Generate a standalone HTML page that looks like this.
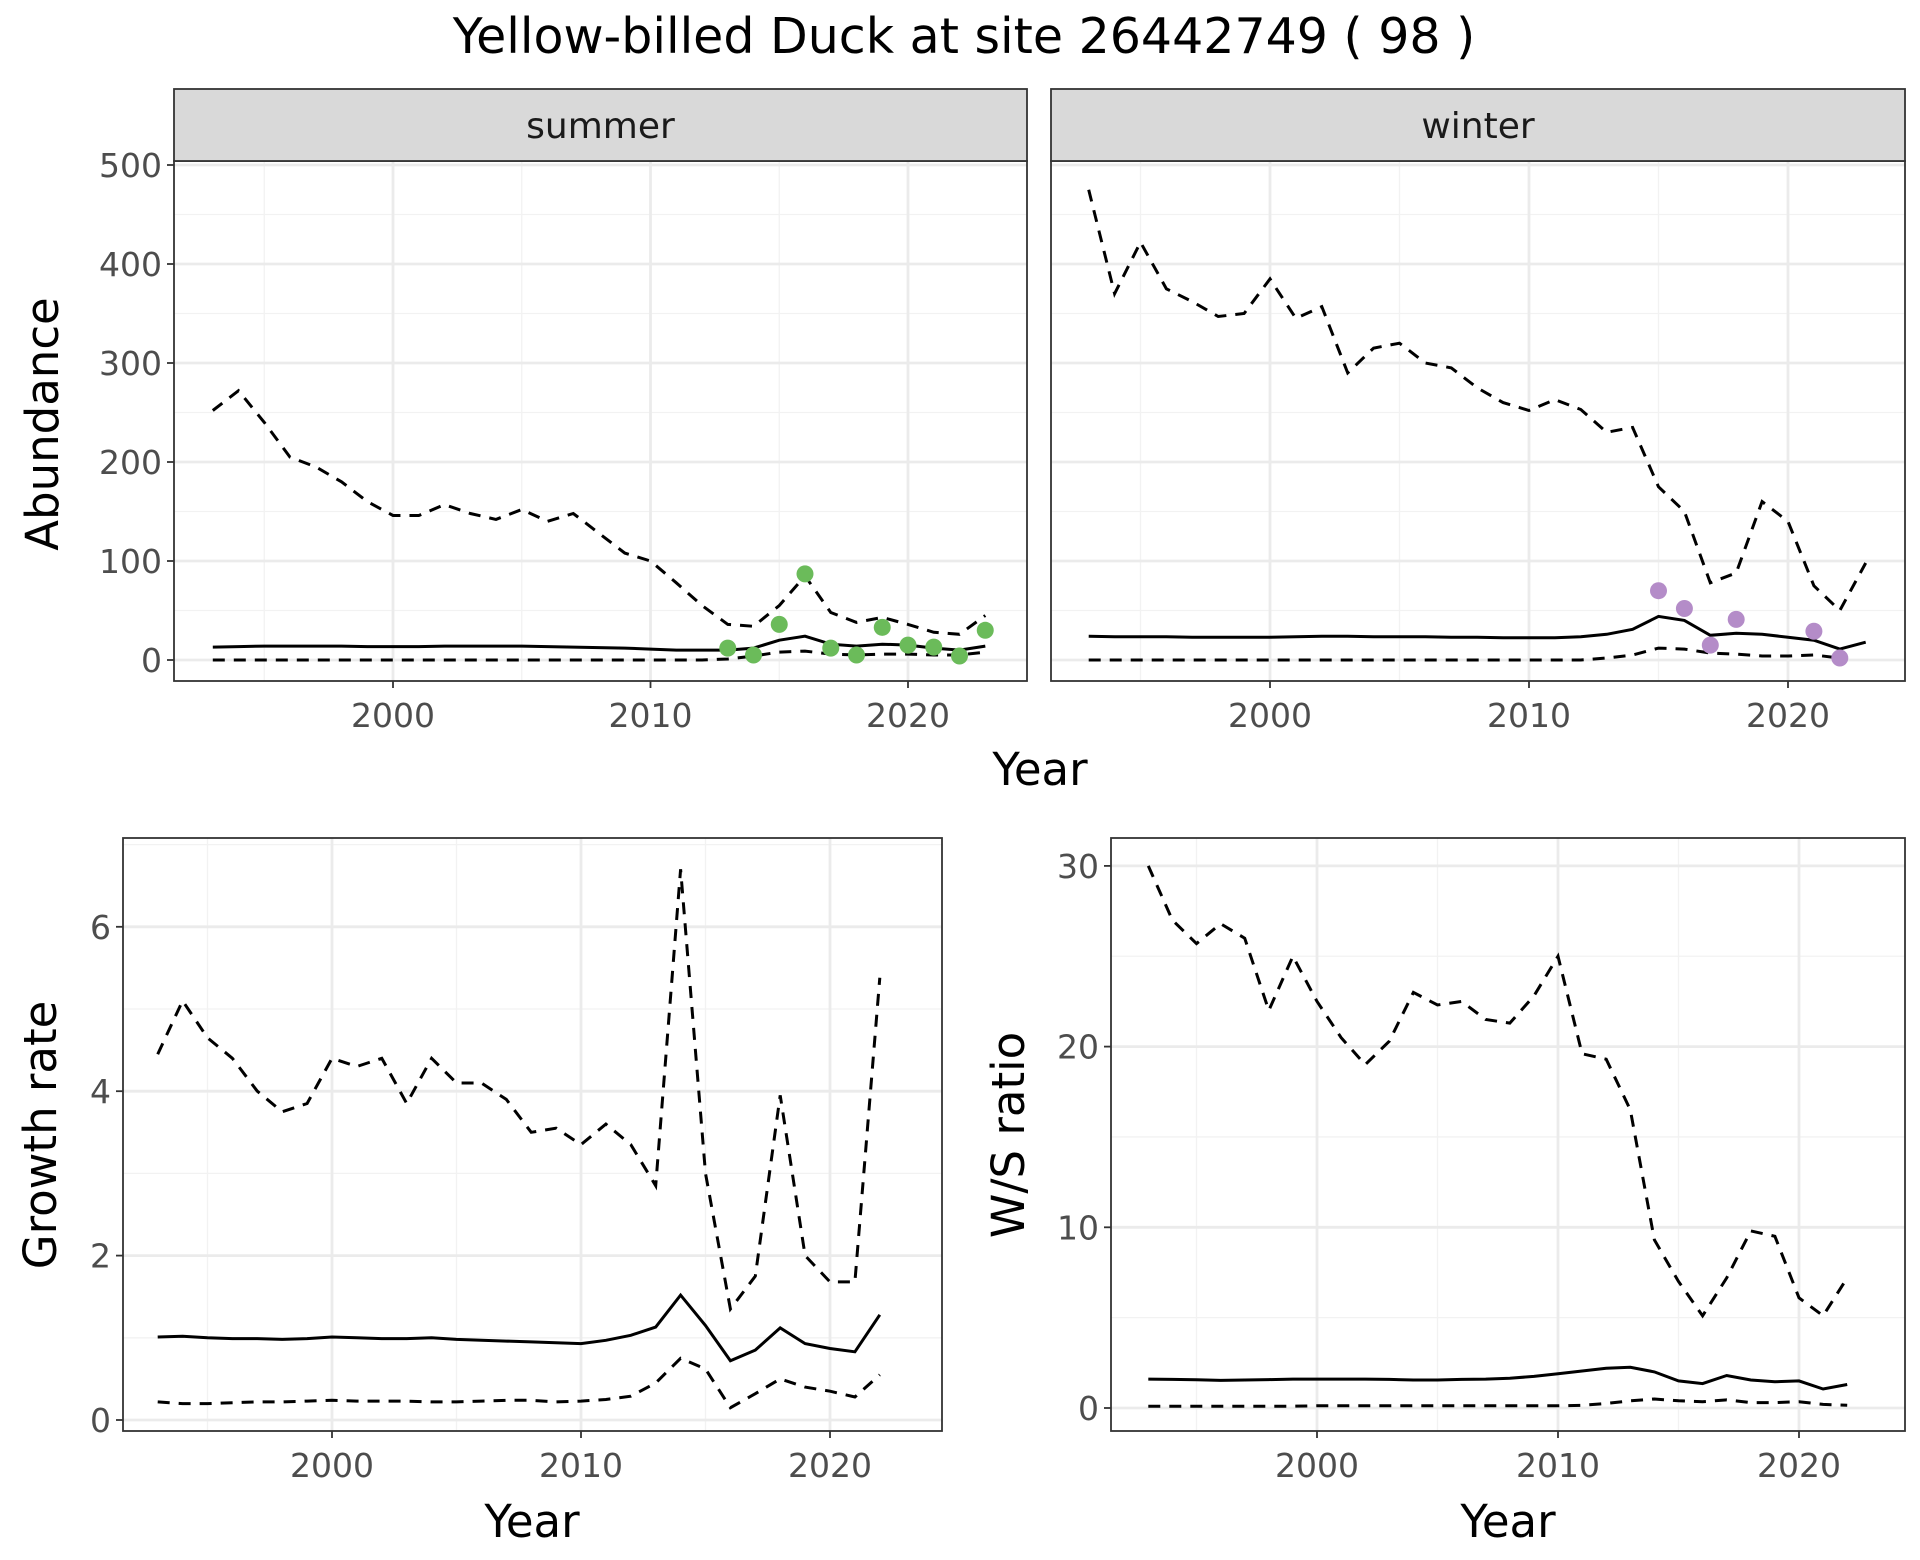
<!DOCTYPE html>
<html><head><meta charset="utf-8">
<style>
html,body{margin:0;padding:0;background:#fff;}
svg{display:block;font-family:"DejaVu Sans","Liberation Sans",sans-serif;}
</style></head>
<body>
<svg id="c" width="1920" height="1560" viewBox="0 0 1920 1560" xmlns="http://www.w3.org/2000/svg">
<text x="964" y="53" font-size="49" text-anchor="middle" fill="#000">Yellow-billed Duck at site 26442749 ( 98 )</text>
</svg>
<script>
const yearsTop = [1993,1994,1995,1996,1997,1998,1999,2000,2001,2002,2003,2004,2005,2006,2007,2008,2009,2010,2011,2012,2013,2014,2015,2016,2017,2018,2019,2020,2021,2022,2023];
const summerUpper = [252,272,240,205,195,180,160,146,146,157,148,142,152,140,148,128,108,100,78,55,36,34,55,85,48,38,43,36,28,26,45];
const summerMid = [13,13.5,14,14,14,14,13.5,13.5,13.5,14,14,14,14,13.5,13,12.5,12,11,10,10,10,12,20,24,16,14,16,15,12,10,14];
const summerLower = [0,0,0,0,0,0,0,0,0,0,0,0,0,0,0,0,0,0,0,0,1,4,8,9,6,5,6,6,5,5,8];
const summerObsYears = [2013,2014,2015,2016,2017,2018,2019,2020,2021,2022,2023];
const summerObs = [12,5,36,87,12,5,33,15,13,4,30];
const winterUpper = [475,370,422,375,362,347,350,385,345,357,290,315,320,300,295,275,260,252,263,253,230,235,175,150,78,88,160,140,75,50,98];
const winterMid = [24,23.5,23.5,23.5,23,23,23,23,23.5,24,24,23.5,23.5,23.5,23,23,22.5,22.5,22.5,23.5,26,31,44,40,25,27,26,23,20,11,18];
const winterLower = [0,0,0,0,0,0,0,0,0,0,0,0,0,0,0,0,0,0,0,0,2,5,12,11,7,6,4,4,5,2,null];
const winterObsYears = [2015,2016,2017,2018,2021,2022];
const winterObs = [70,52,15,41,29,2];
const yearsBot = [1993,1994,1995,1996,1997,1998,1999,2000,2001,2002,2003,2004,2005,2006,2007,2008,2009,2010,2011,2012,2013,2014,2015,2016,2017,2018,2019,2020,2021,2022];
const growthUpper = [4.45,5.1,4.65,4.4,4.0,3.75,3.85,4.4,4.3,4.4,3.85,4.4,4.1,4.1,3.9,3.5,3.55,3.35,3.6,3.35,2.85,6.7,3.0,1.35,1.75,3.95,2.0,1.68,1.68,5.38];
const growthMid = [1.01,1.02,1.0,0.99,0.99,0.98,0.99,1.01,1.0,0.99,0.99,1.0,0.98,0.97,0.96,0.95,0.94,0.93,0.97,1.03,1.13,1.52,1.15,0.72,0.85,1.12,0.93,0.87,0.83,1.28];
const growthLower = [0.22,0.2,0.2,0.21,0.22,0.22,0.23,0.24,0.23,0.23,0.23,0.22,0.22,0.23,0.24,0.24,0.22,0.23,0.25,0.29,0.45,0.75,0.62,0.15,0.32,0.5,0.4,0.35,0.28,0.55];
const wsUpper = [30,27,25.7,26.8,26,22,25,22.5,20.5,19,20.3,23,22.3,22.5,21.5,21.3,22.8,25,19.6,19.3,16.5,9.3,7,5.1,7.2,9.8,9.5,6.1,5.1,7.2];
const wsMid = [1.6,1.58,1.56,1.53,1.55,1.57,1.6,1.6,1.6,1.6,1.58,1.55,1.55,1.58,1.6,1.65,1.75,1.9,2.05,2.2,2.25,2.0,1.5,1.35,1.8,1.55,1.45,1.5,1.05,1.3];
const wsLower = [0.1,0.1,0.1,0.1,0.1,0.1,0.1,0.12,0.12,0.12,0.12,0.12,0.12,0.12,0.12,0.12,0.12,0.12,0.15,0.25,0.4,0.5,0.4,0.35,0.45,0.3,0.3,0.35,0.2,0.15];
const abundTicks = [0,100,200,300,400,500];
const growthTicks = [0,2,4,6];
const wsTicks = [0,10,20,30];
const yearTicks = [2000,2010,2020];

const svg = document.getElementById('c');
const NS = 'http://www.w3.org/2000/svg';
function mk(tag, attrs, parent){const e=document.createElementNS(NS,tag);for(const k in attrs)e.setAttribute(k,attrs[k]);(parent||svg).appendChild(e);return e;}

function panel(o){
  const g = mk('g',{});
  
  
  mk('rect',{x:o.x0,y:o.y0,width:o.x1-o.x0,height:o.y1-o.y0,fill:'#fff'},g);
  o.yMinor.forEach(v=>{const y=o.ys(v);if(y>o.y0&&y<o.y1)mk('line',{x1:o.x0,x2:o.x1,y1:y,y2:y,stroke:'#F2F2F2','stroke-width':1.3},g);});
  [1995,2005,2015].forEach(v=>{const x=o.xs(v);mk('line',{x1:x,x2:x,y1:o.y0,y2:o.y1,stroke:'#F2F2F2','stroke-width':1.3},g);});
  o.yMajor.forEach(v=>{const y=o.ys(v);mk('line',{x1:o.x0,x2:o.x1,y1:y,y2:y,stroke:'#EBEBEB','stroke-width':2.8},g);});
  yearTicks.forEach(v=>{const x=o.xs(v);mk('line',{x1:x,x2:x,y1:o.y0,y2:o.y1,stroke:'#EBEBEB','stroke-width':2.8},g);});
  return g;
}
function line(g, xs, ys, years, vals, dashed, name){
  let d='';let pen=false;
  years.forEach((yr,i)=>{const v=vals[i];if(v===null||v===undefined){pen=false;return;}d+=(pen?'L':'M')+xs(yr).toFixed(1)+','+ys(v).toFixed(1);pen=true;});
  const p = mk('path',{d:d,fill:'none',stroke:'#000','stroke-width':3,'stroke-dasharray':dashed?'12,9':'none'},g);
  
  
}
function points(g, xs, ys, years, vals, color, name){
  years.forEach((yr,i)=>{
    const c = mk('circle',{cx:xs(yr),cy:ys(vals[i]),r:8.5,fill:color},g);
    
    
  });
}
function border(o){mk('rect',{x:o.x0,y:o.y0,width:o.x1-o.x0,height:o.y1-o.y0,fill:'none',stroke:'#333','stroke-width':1.8});}
function xAxis(o){
  yearTicks.forEach(v=>{const x=o.xs(v);mk('line',{x1:x,x2:x,y1:o.y1,y2:o.y1+7,stroke:'#333','stroke-width':1.8});
    const t=mk('text',{x:x,y:o.y1+46,'font-size':33,'text-anchor':'middle',fill:'#4D4D4D'});t.textContent=v;
    
    });
}
function yAxis(o, ticks){
  ticks.forEach(v=>{const y=o.ys(v);mk('line',{x1:o.x0-7,x2:o.x0,y1:y,y2:y,stroke:'#333','stroke-width':1.8});
    const t=mk('text',{x:o.x0-12,y:y+12,'font-size':33,'text-anchor':'end',fill:'#4D4D4D'});t.textContent=v;
    
    });
}
function label(txt,x,y,rot,name){
  const t=mk('text',{x:x,y:y,'font-size':45,'text-anchor':'middle',fill:'#000',transform:rot?`rotate(-90 ${x} ${y})`:''});
  t.textContent=txt;
}
function strip(o,txt,name){
  const r=mk('rect',{x:o.x0,y:89,width:o.x1-o.x0,height:o.y0-89,fill:'#D9D9D9',stroke:'#333','stroke-width':1.8});
  
  const t=mk('text',{x:(o.x0+o.x1)/2,y:138,'font-size':36,'text-anchor':'middle',fill:'#1A1A1A'});t.textContent=txt;
  
}
const absY = v=>660 - v*(495/500);
const abMinor=[50,150,250,350,450,550];
const S={x0:174,x1:1027,y0:161,y1:681,xs:yr=>393+(yr-2000)*25.75,ys:absY,yMinor:abMinor,yMajor:abundTicks,name:'summer-panel'};
let g=panel(S);
line(g,S.xs,S.ys,yearsTop,summerUpper,true,'summer-upper-ci');
line(g,S.xs,S.ys,yearsTop,summerLower,true,'summer-lower-ci');
line(g,S.xs,S.ys,yearsTop,summerMid,false,'summer-estimate');
points(g,S.xs,S.ys,summerObsYears,summerObs,'#6BBB5A','summer-count-point');
border(S);strip(S,'summer','summer-strip');xAxis(S);yAxis(S,abundTicks);
const W={x0:1051,x1:1905,y0:161,y1:681,xs:yr=>1270+(yr-2000)*25.9,ys:absY,yMinor:abMinor,yMajor:abundTicks,name:'winter-panel'};
g=panel(W);
line(g,W.xs,W.ys,yearsTop,winterUpper,true,'winter-upper-ci');
line(g,W.xs,W.ys,yearsTop,winterLower,true,'winter-lower-ci');
line(g,W.xs,W.ys,yearsTop,winterMid,false,'winter-estimate');
points(g,W.xs,W.ys,winterObsYears,winterObs,'#B48CC8','winter-count-point');
border(W);strip(W,'winter','winter-strip');xAxis(W);
label('Year',1040,785,false,'x-axis-title-top');
label('Abundance',58,424,true,'y-axis-title-abundance');
const G={x0:123,x1:942,y0:838,y1:1431,xs:yr=>332+(yr-2000)*24.9,ys:v=>1420-v*82.2,yMinor:[1,3,5,7],yMajor:growthTicks,name:'growth-panel'};
g=panel(G);
line(g,G.xs,G.ys,yearsBot,growthUpper,true,'growth-upper-ci');
line(g,G.xs,G.ys,yearsBot,growthLower,true,'growth-lower-ci');
line(g,G.xs,G.ys,yearsBot,growthMid,false,'growth-estimate');
border(G);xAxis(G);yAxis(G,growthTicks);
label('Year',532,1537,false,'x-axis-title-growth');
label('Growth rate',56,1135,true,'y-axis-title-growth');
const R={x0:1111,x1:1905,y0:838,y1:1431,xs:yr=>1317+(yr-2000)*24.1,ys:v=>1408-v*18.07,yMinor:[5,15,25],yMajor:wsTicks,name:'ws-ratio-panel'};
g=panel(R);
line(g,R.xs,R.ys,yearsBot,wsUpper,true,'ws-upper-ci');
line(g,R.xs,R.ys,yearsBot,wsLower,true,'ws-lower-ci');
line(g,R.xs,R.ys,yearsBot,wsMid,false,'ws-estimate');
border(R);xAxis(R);yAxis(R,wsTicks);
label('Year',1508,1537,false,'x-axis-title-ws');
label('W/S ratio',1024,1135,true,'y-axis-title-ws');
</script>
</body></html>
